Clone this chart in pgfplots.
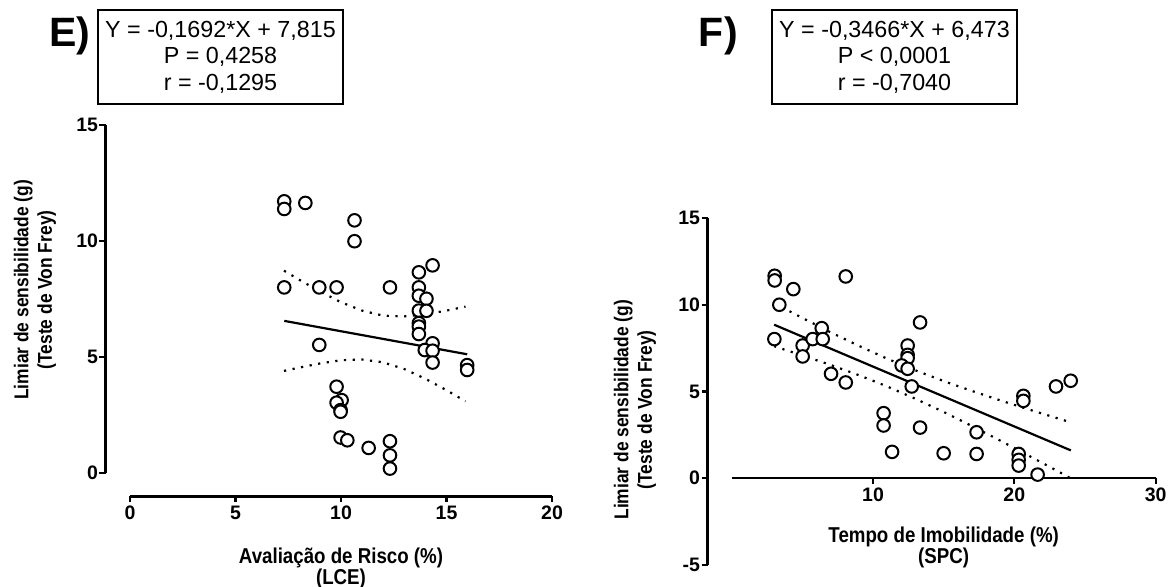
\documentclass[border=0pt]{standalone}
\usepackage{fontspec}
\setmainfont{Liberation Sans}
\newfontfamily\condsans[FakeStretch=0.87]{Liberation Sans}
\usepackage{pgfplots}
\usepackage{pgfplotstable}
\pgfplotsset{compat=1.18}

\pgfplotstableread{
x y
7.31 11.71
7.31 11.38
8.31 11.64
10.64 10.89
10.64 9.99
7.31 8.00
8.97 8.00
9.79 8.00
12.32 8.00
8.97 5.52
14.34 8.95
13.69 8.65
13.69 8.00
13.69 7.64
14.05 7.51
13.69 7.00
14.05 6.99
13.69 6.46
13.69 6.31
13.69 5.99
14.34 5.59
13.97 5.30
14.34 5.27
14.34 4.76
15.98 4.65
15.98 4.44
9.79 3.72
10.03 3.14
9.79 3.03
9.98 2.71
9.98 2.64
9.98 1.53
10.30 1.41
11.31 1.08
12.32 1.37
12.32 0.76
12.32 0.19
}\dataE

\pgfplotstableread{
x y
3.04 11.67
3.04 11.40
4.36 10.90
3.37 10.00
8.07 11.63
6.37 8.65
3.02 8.02
5.02 7.65
5.73 8.02
6.44 8.02
5.02 7.02
7.03 6.02
8.07 5.52
13.33 8.98
12.45 7.65
12.45 7.11
12.45 6.92
12.03 6.50
12.45 6.31
12.74 5.29
10.75 3.75
10.75 3.04
13.33 2.92
11.35 1.52
15.00 1.44
17.33 2.65
17.33 1.40
20.31 1.40
20.31 1.06
20.31 0.73
20.64 4.75
20.64 4.46
21.65 0.21
22.95 5.29
23.99 5.62
}\dataF

\pgfplotsset{
  prism/.style={
    scale only axis, clip=false,
    axis line style={line width=2.2bp, black},
    tick style={line width=2.2bp, black},
    major tick length=6bp,
    tick align=outside,
    tick label style={font=\bfseries\fontsize{19.5bp}{21bp}\selectfont},
    yticklabel style={xshift=2bp},
    xlabel style={align=center, font=\condsans\bfseries\fontsize{21.5bp}{20bp}\selectfont},
    ylabel style={align=center, rotate=0, font=\condsans\bfseries\fontsize{20bp}{23.5bp}\selectfont},
  },
  pts/.style={only marks, mark=*, mark size=6.3bp,
    mark options={line width=2bp, draw=black, fill=white}},
  reg/.style={no marks, line width=2.2bp, black},
  band/.style={no marks, line width=2.2bp, black, dash pattern=on 2.2bp off 6.5bp},
}

\begin{document}
\begin{tikzpicture}[x=1bp,y=1bp]
\useasboundingbox (0,0) rectangle (1175,587);

% ---------------- Panel E ----------------
\begin{axis}[prism,
  at={(130bp,114bp)}, anchor=south west,
  width=422bp, height=348bp,
  xmin=0, xmax=20, ymin=0, ymax=15,
  axis lines*=left,
  axis x line shift=23.5bp, axis y line shift=24.5bp,
  xtick={0,5,10,15,20}, xticklabels={0,5,10,15,20},
  ytick={0,5,10,15}, yticklabels={0,5,10,15},
  xlabel={Avaliação de Risco (\%)\\(LCE)},
  xlabel style={at={(axis description cs:0.5,-0.274)}, anchor=center},
  ylabel={Limiar de sensibilidade (g)\\(Teste de Von Frey)},
  ylabel style={at={(axis description cs:-0.225,0.526)}, anchor=center},
]
\addplot[band] coordinates {(7.3,8.72) (8,8.34) (9,7.83) (10,7.36) (11,7.00) (12,6.78) (13,6.75) (14,6.84) (15,7.00) (15.9,7.17)};
\addplot[band] coordinates {(7.3,4.40) (8,4.54) (9,4.72) (10,4.86) (11,4.89) (12,4.77) (13,4.48) (14,4.06) (15,3.57) (15.9,3.09)};
\addplot[reg] coordinates {(7.31,6.557) (15.98,5.117)};
\addplot[pts] table[x=x,y=y] {\dataE};
\end{axis}

% ---------------- Panel F ----------------
\begin{axis}[prism,
  at={(731.7bp,22bp)}, anchor=south west,
  width=423.9bp, height=347bp,
  xmin=0, xmax=30, ymin=-5, ymax=15,
  axis x line*=middle, axis y line*=left,
  axis y line shift=24.2bp,
  xtick={10,20,30}, xticklabels={10,20,30},
  ytick={-5,0,5,10,15}, yticklabels={-5,0,5,10,15},
  xlabel={Tempo de Imobilidade (\%)\\(SPC)},
  xlabel style={at={(axis description cs:0.5,0.05)}, anchor=center},
  ylabel={Limiar de sensibilidade (g)\\(Teste de Von Frey)},
  ylabel style={at={(axis description cs:-0.228,0.447)}, anchor=center},
]
\addplot[band] coordinates {(3.0,10.09) (5,9.24) (7,8.41) (9,7.63) (11,6.89) (13,6.22) (15,5.60) (17,5.03) (19,4.49) (21,3.97) (23,3.47) (24,3.22)};
\addplot[band] coordinates {(3.0,7.61) (5,7.08) (7,6.53) (9,5.94) (11,5.29) (13,4.58) (15,3.82) (17,3.01) (19,2.17) (21,1.31) (23,0.44) (24,-0.01)};
\addplot[reg] coordinates {(3.0,8.85) (24.0,1.605)};
\addplot[pts] table[x=x,y=y] {\dataF};
\end{axis}

% ---------------- Boxes and panel letters ----------------
\node[draw, line width=2.5bp, minimum width=245bp, minimum height=94bp, inner sep=0pt,
  align=center, font=\fontsize{23.3bp}{26.6bp}\selectfont] at (220.5,530)
  {Y = -0,1692*X + 7,815\\P = 0,4258\\r = -0,1295};
\node[draw, line width=2.5bp, minimum width=245bp, minimum height=94bp, inner sep=0pt,
  align=center, font=\fontsize{23.3bp}{26.6bp}\selectfont] at (894.5,530)
  {Y = -0,3466*X + 6,473\\P < 0,0001\\r = -0,7040};
\node[anchor=base, inner sep=0pt, font=\bfseries\fontsize{41bp}{45bp}\selectfont] at (70,540.3) {E)};
\node[anchor=base, inner sep=0pt, font=\bfseries\fontsize{41bp}{45bp}\selectfont] at (718.3,540.3) {F)};
\end{tikzpicture}
\end{document}
